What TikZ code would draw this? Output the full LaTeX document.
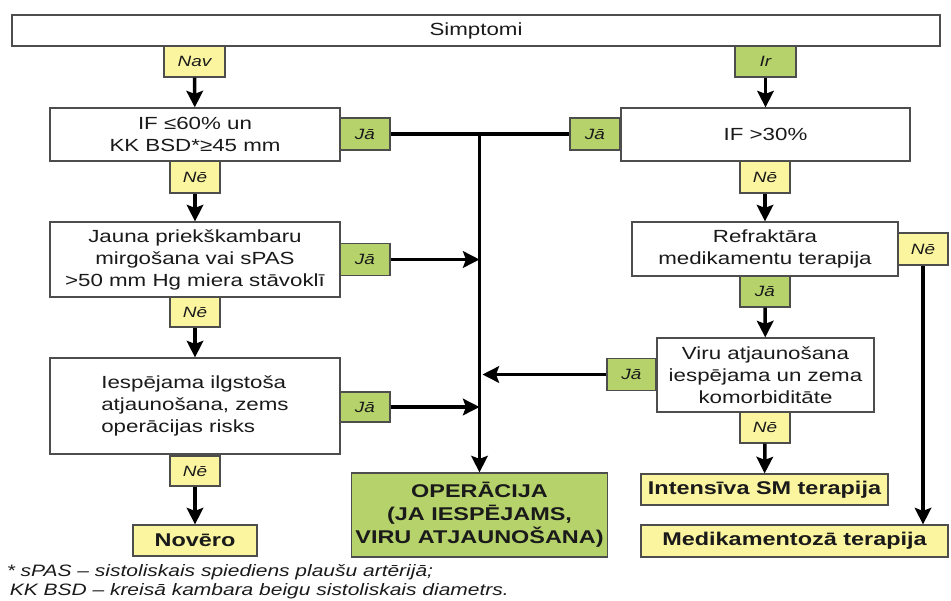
\documentclass[tikz,border=0pt]{standalone}
\usepackage{fontspec}
\setmainfont{Liberation Sans}[FakeStretch=1.27]
\usetikzlibrary{arrows.meta, positioning, calc}
\definecolor{cyellow}{HTML}{FBF5A0}
\definecolor{cgreen}{HTML}{B5D26B}
\definecolor{cframe}{HTML}{4D4D4D}
\definecolor{ctext}{HTML}{1A1A1A}
\tikzset{
  every picture/.style={line width=2pt, text=ctext},
  box/.style={draw=cframe, fill=#1, line width=0.7pt, align=center, inner sep=2pt, font=\fontsize{10}{12.5}\selectfont},
  box/.default=white,
  result/.style={box=#1, font=\fontsize{10.5}{13}\selectfont\bfseries},
  result/.default=cyellow,
  tag/.style={draw=cframe, fill=#1, line width=0.7pt, inner sep=0pt, minimum width=1cm, minimum height=0.64cm, font=\fontsize{8.5}{10}\selectfont\itshape},
  tag/.default=cyellow,
  arrow/.style={-{Stealth[length=3.3mm, width=3.3mm, inset=0.6mm]}, draw=black, line width=2pt},
  line/.style={draw=black, line width=2pt},
  note/.style={anchor=west, inner sep=0pt, font=\fontsize{9.4}{11}\selectfont\itshape},
}

\begin{document}
\begin{tikzpicture}
  \useasboundingbox (0,0) rectangle (19.02,-12);
  % top row
  \node[box, minimum width=18.56cm, minimum height=0.62cm] (symp) at (9.52,-0.61) {Simptomi};
  \node[tag, minimum width=1.22cm, minimum height=0.62cm] (nav) at (3.89,-1.23) {Nav};
  \node[tag=cgreen, minimum width=1.22cm, minimum height=0.62cm] (ir) at (15.31,-1.23) {Ir};
  % left column
  \node[box, minimum width=5.8cm, minimum height=1.06cm] (ifl) at (3.9,-2.69) {IF ≤60\% un\\ KK BSD*≥45 mm};
  \node[tag=cgreen] (jaA) at (7.3,-2.68) {Jā};
  \node[tag] (neA) at (3.9,-3.54) {Nē};
  \node[box, minimum width=5.8cm, minimum height=1.5cm] (af) at (3.9,-5.19) {Jauna priekškambaru\\ mirgošana vai sPAS\\ >50 mm Hg miera stāvoklī};
  \node[tag=cgreen] (jaB) at (7.3,-5.19) {Jā};
  \node[tag, minimum height=0.6cm] (neB) at (3.9,-6.24) {Nē};
  \node[box, align=left, minimum width=5.8cm, minimum height=1.92cm] (risk) at (3.9,-8.12) {Iespējama ilgstoša\\ atjaunošana, zems\\ operācijas risks};
  \node[tag=cgreen, minimum height=0.6cm] (jaC) at (7.3,-8.14) {Jā};
  \node[tag, minimum height=0.6cm] (neC) at (3.9,-9.42) {Nē};
  \node[result, minimum width=2.48cm, minimum height=0.62cm] (obs) at (3.9,-10.81) {Novēro};
  % middle
  \node[result=cgreen, minimum width=5.1cm, minimum height=1.68cm] (oper) at (9.59,-10.3) {OPERĀCIJA\\ (JA IESPĒJAMS,\\ VIRU ATJAUNOŠANA)};
  % right column
  \node[box, minimum width=5.78cm, minimum height=1.06cm] (ifr) at (15.31,-2.69) {IF >30\%};
  \node[tag=cgreen] (jaR) at (11.9,-2.68) {Jā};
  \node[tag] (neR) at (15.3,-3.54) {Nē};
  \node[box, minimum width=5.32cm, minimum height=1.08cm] (refr) at (15.3,-4.98) {Refraktāra\\ medikamentu terapija};
  \node[tag] (neS) at (18.46,-4.98) {Nē};
  \node[tag=cgreen, minimum height=0.62cm] (jaS) at (15.3,-5.83) {Jā};
  \node[box, minimum width=4.34cm, minimum height=1.48cm] (valve) at (15.31,-7.5) {Viru atjaunošana\\ iespējama un zema\\ komorbiditāte};
  \node[tag=cgreen, minimum width=0.98cm] (jaV) at (12.63,-7.49) {Jā};
  \node[tag, minimum height=0.62cm] (neV) at (15.3,-8.55) {Nē};
  \node[result, minimum width=4.94cm, minimum height=0.62cm] (intens) at (15.29,-9.79) {Intensīva SM terapija};
  \node[result, minimum width=6.14cm, minimum height=0.64cm] (medi) at (15.89,-10.82) {Medikamentozā terapija};
  % footnote
  \node[note] (note1) at (0.1,-11.45) {* sPAS – sistoliskais spiediens plaušu artērijā;};
  \node[note] (note2) at (0.16,-11.83) {KK BSD – kreisā kambara beigu sistoliskais diametrs.};
  % connectors
  \draw[arrow] (nav) -- (ifl);
  \draw[arrow] (neA) -- (af);
  \draw[arrow] (neB) -- (risk);
  \draw[arrow] (neC) -- (obs);
  \draw[line] (jaA) -- (jaR);
  \draw[arrow] (jaA.east -| oper.north) -- (oper.north);
  \draw[arrow] (jaB) -- (jaB.east -| oper.north);
  \draw[arrow] (jaC) -- (jaC.east -| oper.north);
  \draw[arrow] (jaV) -- ($(jaV.west -| oper.north)+(0.06,0)$);
  \draw[arrow] (ir) -- (ifr);
  \draw[arrow] (neR) -- (refr);
  \draw[arrow] (jaS) -- (valve);
  \draw[arrow] (neV) -- (intens);
  \draw[arrow] (neS) -- (neS.south |- medi.north);
\end{tikzpicture}
\end{document}
